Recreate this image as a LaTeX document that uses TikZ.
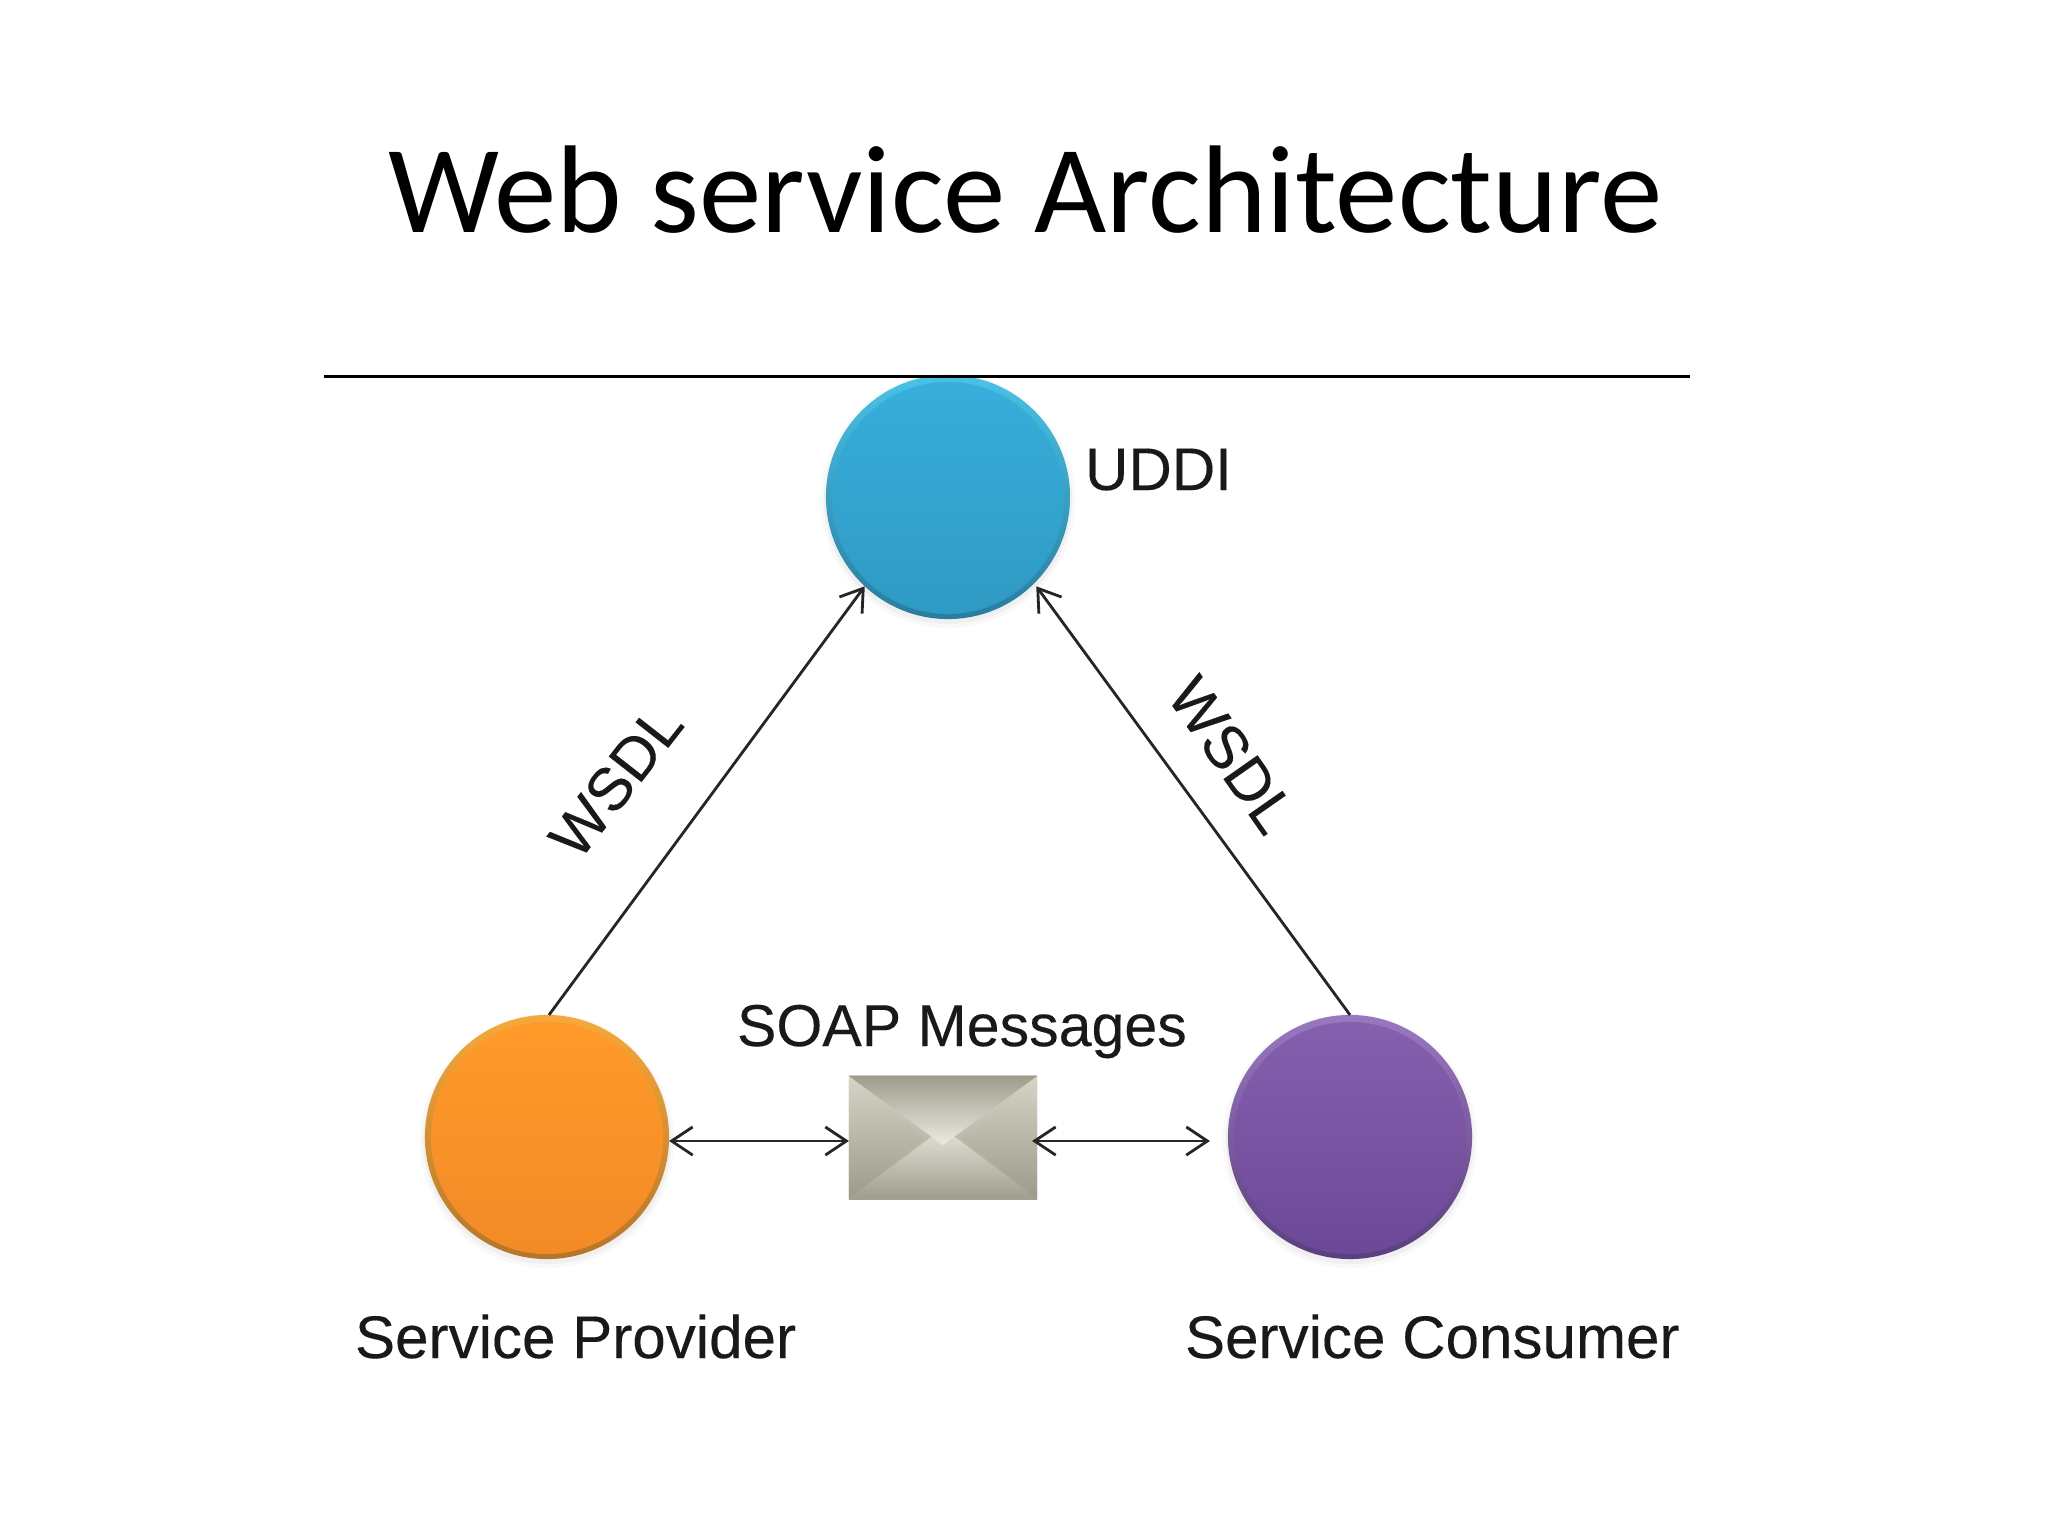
\documentclass[tikz,border=0pt]{standalone}
\usepackage{fontspec}
\setmainfont[FakeBold=0.2]{Liberation Sans}
\newfontfamily\titlefont{Carlito}
\usetikzlibrary{arrows.meta}
\definecolor{uRim}{HTML}{2A7C9E}\definecolor{uBev}{HTML}{49C3E6}\definecolor{uTop}{HTML}{38AEDB}\definecolor{uBot}{HTML}{2F9AC4}
\definecolor{pRim}{HTML}{B5752A}\definecolor{pBev}{HTML}{F6A93A}\definecolor{pTop}{HTML}{FF9A2A}\definecolor{pBot}{HTML}{F28A26}
\definecolor{cRim}{HTML}{5A3F7E}\definecolor{cBev}{HTML}{9A78C0}\definecolor{cTop}{HTML}{8560AE}\definecolor{cBot}{HTML}{6C4898}
\definecolor{eA}{HTML}{A5A394}\definecolor{eB}{HTML}{D4D2C4}\definecolor{eC}{HTML}{D6D4C6}\definecolor{eD}{HTML}{9C9A8A}
\definecolor{eE}{HTML}{E6E3D9}\definecolor{eF}{HTML}{9F9D8E}\definecolor{eG}{HTML}{9E9C8C}\definecolor{eH}{HTML}{EDEBE2}
\tikzset{
  x=0.01cm,y=-0.01cm,
  disc/.style={circle,inner sep=0pt,outer sep=0pt,minimum size=2.44cm},
  barb/.style={Straight Barb[length=6pt,width=8pt,line width=0.8pt]},
  flow/.style={draw=black!85,line width=0.8pt,{Straight Barb[length=6pt,width=8pt,line width=0.8pt]}-{Straight Barb[length=6pt,width=8pt,line width=0.8pt]}},
  oneway/.style={draw=black!85,line width=0.8pt,-{Straight Barb[length=6pt,width=8pt,line width=0.8pt]}},
  lab/.style={inner sep=0pt,outer sep=0pt,text=black!90,font=\fontsize{17.1}{20}\selectfont},
}
\newcommand{\glossy}[5]{% node name, rim, bevel, face top, face bottom
  \fill[black,opacity=0.025] ([yshift=-0.04cm]#1.center) circle (1.27cm);
  \fill[black,opacity=0.035] ([yshift=-0.03cm]#1.center) circle (1.24cm);
  \shade[top color=#3,bottom color=#2] (#1.center) circle (1.22cm);
  \shade[top color=#4,bottom color=#5] ([yshift=-0.01cm]#1.center) circle (1.16cm);
}
\begin{document}
\begin{tikzpicture}
\useasboundingbox (0,0) rectangle (2048,1536);
\fill[white] (0,0) rectangle (2048,1536);

\node[inner sep=0pt,anchor=base,font=\titlefont\fontsize{35.5}{44}\selectfont] (title) at (1025,232) {Web service Architecture};

\node[disc] (uddi) at (948,497) {};
\node[disc] (prov) at (547,1137) {};
\node[disc] (cons) at (1350,1137) {};
\glossy{uddi}{uRim}{uBev}{uTop}{uBot}
\glossy{prov}{pRim}{pBev}{pTop}{pBot}
\glossy{cons}{cRim}{cBev}{cTop}{cBot}

\draw[line width=0.85pt,black] (324,376) -- (1690,376);

% envelope
\node[inner sep=0pt,outer sep=0pt,minimum width=1.88cm,minimum height=1.23cm,bottom color=eA,top color=eB] (env) at (943,1137.5) {};
\coordinate (eL) at (925,1138);
\coordinate (eR) at (961,1138);
\coordinate (eBt) at (943,1128);
\coordinate (eTp) at (943,1145);
\shade[top color=eC,bottom color=eD] (env.north west) -- (eL) -- (env.south west) -- cycle;
\shade[top color=eC,bottom color=eD] (env.north east) -- (eR) -- (env.south east) -- cycle;
\shade[top color=eE,bottom color=eF] (env.south west) -- (eBt) -- (env.south east) -- cycle;
\shade[top color=eG,bottom color=eH] (env.north west) -- (env.north east) -- (eTp) -- cycle;

% connectors
\draw[oneway] ([xshift=0.02cm]prov.north) -- (uddi.227);
\draw[oneway] (cons.north) -- ([xshift=0.05cm]uddi.313);
\coordinate (pe) at ([yshift=-0.04cm]prov.east);
\draw[flow] (pe) -- (env.west |- pe);
\draw[flow] ([xshift=-0.05cm]env.east |- pe) -- ([xshift=-0.18cm]cons.west |- pe);

% labels
\node[lab,anchor=base west] (luddi) at (1085,490) {UDDI};
\node[lab,anchor=base west,font=\fontsize{16.8}{20}\selectfont] (lsoap) at (737,1046) {SOAP Messages};
\node[lab,anchor=base west] (lprov) at (355,1358) {Service Provider};
\node[lab,anchor=base west] (lcons) at (1185,1358) {Service Consumer};
\node[lab,rotate=52] (w1) at (616,781) {WSDL};
\node[lab,rotate=-55] (w2) at (1232,755) {WSDL};
\end{tikzpicture}
\end{document}
